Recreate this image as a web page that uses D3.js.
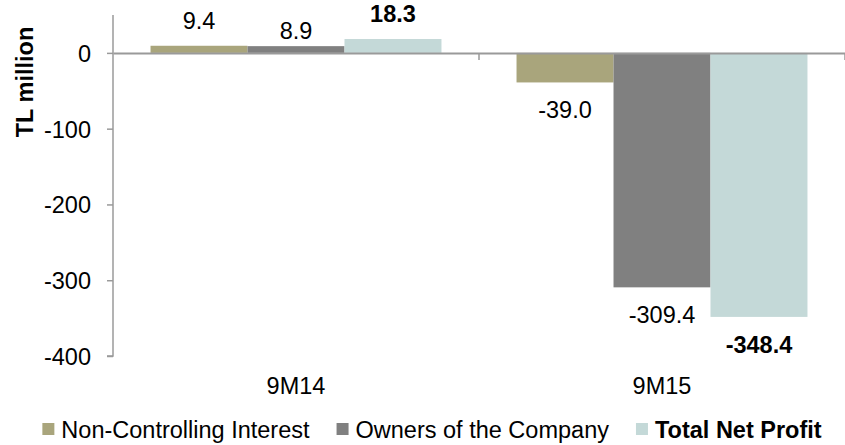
<!DOCTYPE html>
<html>
<head>
<meta charset="utf-8">
<script src="https://cdn.jsdelivr.net/npm/d3@7"></script>
<style>
  html, body { margin: 0; padding: 0; background: #fff; }
  svg { display: block; font-family: "Liberation Sans", Arial, sans-serif; }
</style>
</head>
<body>
<svg id="chart" width="845" height="445"></svg>
<script>
// ---- data ----
const categories = ["9M14", "9M15"];
const seriesNames = ["Non-Controlling Interest", "Owners of the Company", "Total Net Profit"];
const nonControlling = [9.4, -39.0];
const owners = [8.9, -309.4];
const totalNetProfit = [18.3, -348.4];
const yTicks = [0, -100, -200, -300, -400];
const yTitle = "TL million";

const seriesValues = [nonControlling, owners, totalNetProfit];
const colors = ["#A9A57C", "#808080", "#C4D9D8"];
const boldSeries = [false, false, true];

const svg = d3.select("#chart");
const fontSize = 23.5;
const axisColor = "#9a9a9a";

const x0 = d3.scaleBand().domain(categories).range([113, 845]).paddingInner(0).paddingOuter(0);
const x1 = d3.scaleBand().domain(seriesNames).range([0, x0.bandwidth()]).paddingInner(0).paddingOuter(0.387);
const y = d3.scaleLinear().domain([-400, 50]).range([356, 15]);

// bars
const rows = [];
categories.forEach((c, ci) => {
  seriesNames.forEach((s, si) => {
    rows.push({ cat: c, ser: s, si, v: seriesValues[si][ci] });
  });
});

svg.append("g").selectAll("rect").data(rows).join("rect")
  .attr("x", d => x0(d.cat) + x1(d.ser))
  .attr("width", x1.bandwidth())
  .attr("y", d => Math.min(y(d.v), y(0)))
  .attr("height", d => Math.abs(y(d.v) - y(0)))
  .attr("fill", d => colors[d.si]);

// y axis
const yAxis = d3.axisLeft(y).tickValues(yTicks).tickSize(6).tickPadding(16).tickFormat(d => String(d));
const gy = svg.append("g").attr("transform", "translate(113,0)").call(yAxis);
gy.select(".domain").attr("stroke", axisColor).attr("stroke-width", 1.5).attr("d", "M0,15V356H-6");
gy.selectAll(".tick line").attr("stroke", axisColor).attr("stroke-width", 1.5);
gy.selectAll(".tick text").attr("font-size", fontSize).attr("fill", "#000")
  .attr("font-family", "Liberation Sans, Arial, sans-serif").attr("dy", "0.36em");

// x axis at zero
const xAxis = d3.axisBottom(x0).tickSize(0).tickFormat("");
const gx = svg.append("g").attr("transform", `translate(0,${y(0)})`).call(xAxis);
gx.select(".domain").attr("stroke", axisColor).attr("stroke-width", 2);
gx.selectAll(".tick").remove();
// category boundary ticks
const boundaries = categories.map(c => x0(c) + x0.bandwidth());
gx.selectAll("line.bt").data(boundaries).join("line").attr("class", "bt")
  .attr("x1", d => d).attr("x2", d => d).attr("y1", 0).attr("y2", 7)
  .attr("stroke", axisColor).attr("stroke-width", 1.5);

// category labels
svg.append("g").selectAll("text").data(categories).join("text")
  .attr("x", d => x0(d) + x0.bandwidth() / 2)
  .attr("y", 394)
  .attr("text-anchor", "middle")
  .attr("font-size", fontSize)
  .attr("fill", "#000")
  .text(d => d);

// value labels
const labelNudge = { "9M14|Owners of the Company": 10 };
svg.append("g").selectAll("text").data(rows).join("text")
  .attr("x", d => x0(d.cat) + x1(d.ser) + x1.bandwidth() / 2)
  .attr("y", d => (d.v >= 0 ? y(d.v) - 17 : y(d.v) + 36) + (labelNudge[d.cat + "|" + d.ser] || 0))
  .attr("text-anchor", "middle")
  .attr("font-size", fontSize)
  .attr("font-weight", d => boldSeries[d.si] ? "bold" : "normal")
  .attr("fill", "#000")
  .text(d => d.v.toFixed(1));

// y title
svg.append("text")
  .attr("transform", "translate(33,82) rotate(-90)")
  .attr("text-anchor", "middle")
  .attr("font-size", fontSize)
  .attr("font-weight", "bold")
  .attr("fill", "#000")
  .text(yTitle);

// legend
const lg = svg.append("g");
const items = lg.selectAll("g").data(seriesNames).join("g");
items.append("rect").attr("width", 12).attr("height", 12).attr("y", 423)
  .attr("fill", (d, i) => colors[i]);
items.append("text").attr("x", 19).attr("y", 438)
  .attr("font-size", fontSize)
  .attr("font-weight", (d, i) => boldSeries[i] ? "bold" : "normal")
  .attr("fill", "#000")
  .text(d => d);
const gap = 27;
let widths = [];
items.each(function() { widths.push(19 + d3.select(this).select("text").node().getComputedTextLength()); });
const total = d3.sum(widths) + gap * (widths.length - 1);
let cx = 432 - total / 2;
items.each(function(d, i) {
  d3.select(this).attr("transform", `translate(${cx},0)`);
  cx += widths[i] + gap;
});
</script>
</body>
</html>
